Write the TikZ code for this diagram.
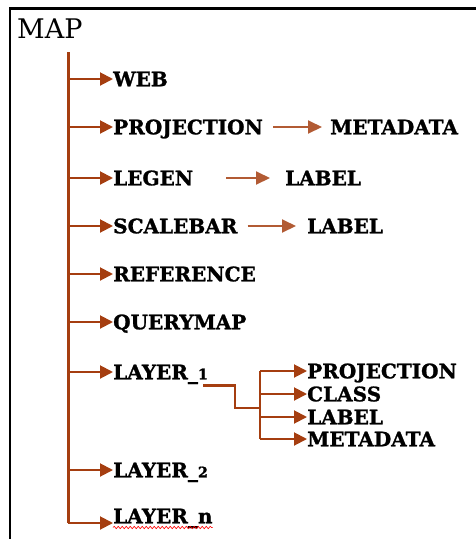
\documentclass[tikz,border=0pt]{standalone}
\usepackage{fontspec}
\setmainfont{DejaVu Serif}[BoldFeatures={FakeBold=1.2}]
\usetikzlibrary{arrows.meta,decorations.pathmorphing}

\definecolor{rust}{RGB}{165,62,16}
\newcommand{\osn}[1]{{\fontsize{14.5}{14.5}\selectfont #1}}

\begin{document}
\begin{tikzpicture}[x=1pt,y=-1pt,
    item/.style={anchor=west,inner sep=0pt,text height=14.6pt,text depth=0pt,
        font=\bfseries\fontsize{20}{20}\selectfont},
    trunk/.style={draw=rust,line width=3pt},
    branch/.style={draw=rust,line width=2pt,-{Triangle[length=13pt,width=13pt]}},
    sub/.style={draw=rust!85,line width=2pt,-{Triangle[length=14pt,width=13pt]}},
    elbow/.style={draw=rust,line width=2.5pt}]

    % パラメータの定義
    \pgfmathsetmacro{\tx}{68}
    \pgfmathsetmacro{\ix}{113}
    \pgfmathsetmacro{\fx}{260}

    \useasboundingbox (0,0) rectangle (476,539);

    % 枠を描画
    \draw[line width=2pt] (10,539) -- (10,8);
    \draw[line width=3pt] (9,8) -- (476,8);

    % ルート
    \node[anchor=base west,inner sep=0pt,font=\fontsize{27}{27}\selectfont] (map) at (17,38) {MAP};
    \coordinate (top) at (\tx,52);

    % 第1階層
    \foreach \name/\txt/\y in {web/WEB/79,proj/PROJECTION/127,legen/LEGEN/178,
        scale/SCALEBAR/226,ref/REFERENCE/274,query/QUERYMAP/322,
        lay1/LAYER\_\osn{1}/372,lay2/LAYER\_\osn{2}/470}{
        \node[item] (\name) at (\ix,\y) {\txt};
        \draw[branch] (top |- \name.west) -- (\name.west);
    }
    \coordinate (ln-in) at (\ix,523);
    \node[item] (layn) at (\ix,516) {LAYER\_n};
    \draw[trunk] (top) -- (top |- ln-in);
    \draw[branch] (top |- ln-in) -- (ln-in);
    \draw[red,line width=0.6pt,decorate,decoration={snake,amplitude=1.2pt,segment length=4pt}]
        ([yshift=-4pt]layn.south west) -- ([yshift=-4pt]layn.south east);

    % 第2階層
    \node[item] (meta1) at (330,127) {METADATA};
    \node[item] (lab1) at (285,178) {LABEL};
    \node[item] (lab2) at (307,226) {LABEL};
    \draw[sub,shorten <=10pt,shorten >=8pt] (proj) -- (meta1);
    \draw[sub,shorten <=33pt,shorten >=15pt] (legen) -- (lab1);
    \draw[sub,shorten <=10pt,shorten >=11pt] (scale) -- (lab2);

    % LAYER_1 の分岐
    \coordinate (fork) at (\fx,408);
    \node[item] (proj2) at (307,371) {PROJECTION};
    \node[item] (class2) at (307,394) {CLASS};
    \node[item] (lab3) at (307,417) {LABEL};
    \node[item] (meta2) at (307,439) {METADATA};
    \draw[elbow] ([xshift=-5pt,yshift=-6pt]lay1.south east) -| ([xshift=-25pt]fork) -- (fork);
    \draw[elbow] (fork |- proj2.west) -- (fork |- meta2.west);
    \foreach \n in {proj2,class2,lab3,meta2}
        \draw[branch] (fork |- \n.west) -- (\n.west);

\end{tikzpicture}
\end{document}
